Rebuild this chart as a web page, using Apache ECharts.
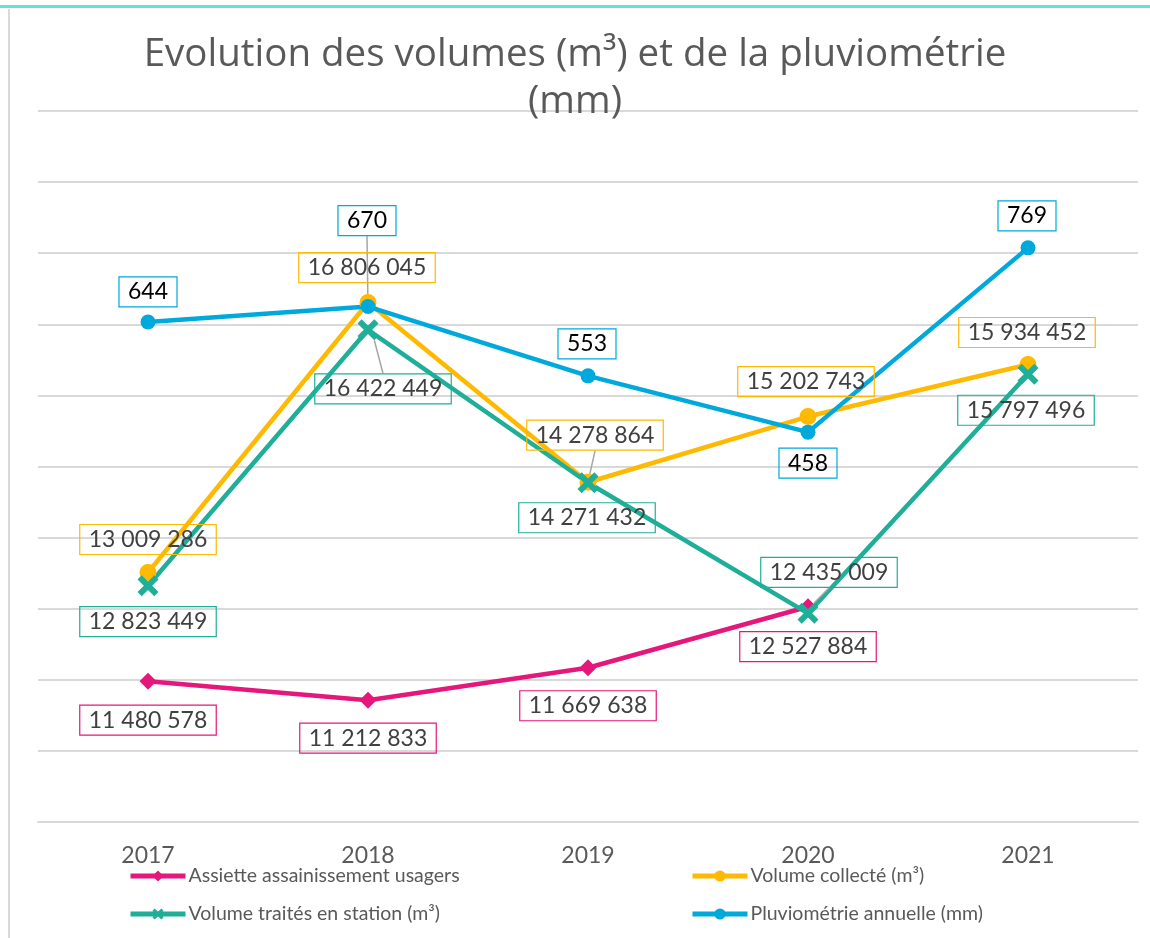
<!DOCTYPE html>
<html>
<head>
<meta charset="utf-8">
<script src="https://cdn.jsdelivr.net/npm/echarts@6/dist/echarts.min.js"></script>
<style>
html,body{margin:0;padding:0;background:#fff;}
#chart{width:1150px;height:938px;}
</style>
</head>
<body>
<div id="chart"></div>
<script>
// ---- Data ----
const years = ['2017', '2018', '2019', '2020', '2021'];
const assiette = [11480578, 11212833, 11669638, 12527884, null];
const collecte = [13009286, 16806045, 14278864, 15202743, 15934452];
const traites = [12823449, 16422449, 14271432, 12435009, 15797496];
const pluvio = [644, 670, 553, 458, 769];
const seriesNames = ['Assiette assainissement usagers', 'Volume collecté (m³)', 'Volume traités en station (m³)', 'Pluviométrie annuelle (mm)'];

// ---- Layout of data labels (offset of label centre from the point) ----
const offAssiette = [[0, 39], [0, 38], [0, 38], [0, 40], [0, 0]];
const offCollecte = [[0, -33], [-1, -35], [7, -47], [-2, -35], [-1, -32]];
const offTraites = [[0, 36], [15, 59], [-1, 35], [21, -41], [-2, 36]];
const offPluvio = [[0, -30], [-1, -86], [-1, -32], [0, 31], [-1, -32]];
const leadCollecte = [false, false, true, false, false];
const leadTraites = [false, true, false, true, false];
const leadPluvio = [false, true, false, false, false];

const FONT = 'Lato';
const fmt = v => String(Math.round(v)).replace(/\B(?=(\d{3})+(?!\d))/g, ' ');

function build(values, leads, color, textColor) {
  return values.map((v, i) => ({
    value: v,
    label: {
      show: v != null,
      position: 'inside',
      formatter: p => fmt(p.value),
      fontFamily: FONT,
      fontSize: 23,
      color: textColor,
      borderColor: color,
      borderWidth: 1.2,
      padding: [4, 9, 3, 9]
    },
    labelLine: {
      show: !!(leads && leads[i]),
      lineStyle: { color: '#a6a6a6', width: 1.5 }
    }
  }));
}
const layoutFrom = offs => p => ({ dx: offs[p.dataIndex][0], dy: offs[p.dataIndex][1] });

const C_PINK = '#e6177a';
const C_ORANGE = '#ffb900';
const C_GREEN = '#1fae98';
const C_BLUE = '#00a9dc';
const X_PATH = 'path://M0,4 L4,0 L10,6 L16,0 L20,4 L14,10 L20,16 L16,20 L10,14 L4,20 L0,16 L6,10 Z';

const chart = echarts.init(document.getElementById('chart'));
chart.setOption({
  animation: false,
  backgroundColor: '#fff',
  graphic: [
    { type: 'rect', shape: { x: 0, y: 5, width: 1150, height: 3 }, style: { fill: '#5ce6d5' }, silent: true },
    { type: 'rect', shape: { x: 8, y: 9, width: 2, height: 929 }, style: { fill: '#d9d9d9' }, silent: true }
  ],
  title: {
    text: 'Evolution des volumes (m³) et de la pluviométrie\n(mm)',
    left: 'center',
    top: 27,
    textStyle: { fontFamily: 'Open Sans', fontSize: 38.5, fontWeight: 'normal', color: '#595959', lineHeight: 47, align: 'center' }
  },
  legend: [
    {
      data: [seriesNames[0], seriesNames[2]],
      orient: 'vertical', left: 123, top: 861, itemGap: 18,
      itemWidth: 55, itemHeight: 14,
      lineStyle: { width: 5 },
      textStyle: { fontFamily: FONT, fontSize: 19.5, color: '#595959', padding: [0, 0, 0, -2] }
    },
    {
      data: [seriesNames[1], seriesNames[3]],
      orient: 'vertical', left: 685, top: 861, itemGap: 18,
      itemWidth: 55, itemHeight: 14,
      lineStyle: { width: 5 },
      textStyle: { fontFamily: FONT, fontSize: 19.5, color: '#595959', padding: [0, 0, 0, -2] }
    }
  ],
  grid: { left: 38, right: 12, top: 111, bottom: 116, containLabel: false },
  xAxis: {
    type: 'category',
    data: years,
    boundaryGap: true,
    axisLine: { show: true, onZero: false, lineStyle: { color: '#d9d9d9', width: 2 } },
    axisTick: { show: false },
    axisLabel: { fontFamily: FONT, fontSize: 23, color: '#595959', margin: 22 }
  },
  yAxis: [
    { type: 'value', min: 9500000, max: 19500000, show: false, splitLine: { show: false } },
    { type: 'value', min: -200, max: 1000, show: false, splitLine: { show: false } },
    {
      type: 'value', min: 0, max: 10, interval: 1, position: 'left',
      axisLabel: { show: false }, axisLine: { show: false }, axisTick: { show: false },
      splitLine: { show: true, lineStyle: { color: '#d9d9d9', width: 2 } }
    }
  ],
  series: [
    {
      name: seriesNames[0], type: 'line', yAxisIndex: 0,
      data: build(assiette, null, C_PINK, '#404040'),
      labelLayout: layoutFrom(offAssiette),
      symbol: 'diamond', symbolSize: 17,
      lineStyle: { color: C_PINK, width: 4.5 }, itemStyle: { color: C_PINK }
    },
    {
      name: seriesNames[1], type: 'line', yAxisIndex: 0,
      data: build(collecte, leadCollecte, C_ORANGE, '#404040'),
      labelLayout: layoutFrom(offCollecte),
      symbol: 'circle', symbolSize: 17,
      lineStyle: { color: C_ORANGE, width: 4.5 }, itemStyle: { color: C_ORANGE }
    },
    {
      name: seriesNames[2], type: 'line', yAxisIndex: 0,
      data: build(traites, leadTraites, C_GREEN, '#404040'),
      labelLayout: layoutFrom(offTraites),
      symbol: X_PATH, symbolSize: 21,
      lineStyle: { color: C_GREEN, width: 4.5 }, itemStyle: { color: C_GREEN }
    },
    {
      name: seriesNames[3], type: 'line', yAxisIndex: 1,
      data: build(pluvio, leadPluvio, C_BLUE, '#000000'),
      labelLayout: layoutFrom(offPluvio),
      symbol: 'circle', symbolSize: 15,
      lineStyle: { color: C_BLUE, width: 4.5 }, itemStyle: { color: C_BLUE }
    }
  ]
});
</script>
</body>
</html>
